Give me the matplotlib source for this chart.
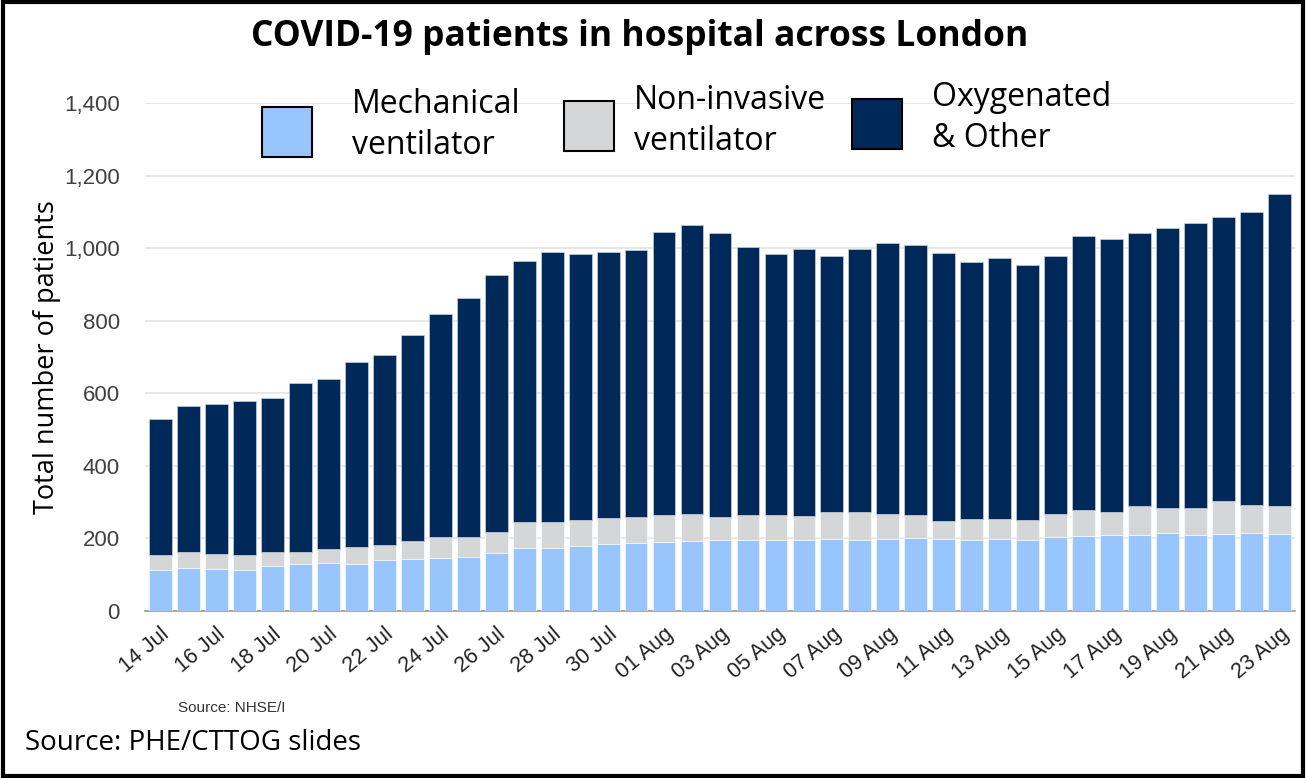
import numpy as np
import matplotlib
matplotlib.use("Agg")
import matplotlib.pyplot as plt
from matplotlib.patches import Rectangle

# dates, one bar per day 14 Jul - 23 Aug
days = [f"{d:02d} Jul" for d in range(14, 32)] + [f"{d:02d} Aug" for d in range(1, 24)]

# values
mech = [113, 119, 116, 113, 123, 129, 133, 129, 141, 142, 145, 148, 160, 175,
        175, 178, 184, 187, 190, 193, 196, 196, 196, 196, 199, 196, 199, 201,
        199, 196, 199, 196, 204, 207, 209, 209, 215, 209, 212, 215, 212]
niv_top = [155, 163, 158, 155, 163, 163, 172, 176, 181, 194, 203, 203, 218, 246,
           244, 250, 256, 260, 265, 268, 259, 265, 265, 263, 273, 273, 268, 265,
           248, 254, 254, 251, 267, 279, 273, 288, 285, 285, 303, 292, 289]
total = [529, 566, 570, 579, 588, 627, 639, 685, 706, 761, 819, 862, 925, 965,
         989, 983, 989, 995, 1044, 1065, 1041, 1004, 983, 998, 978, 998, 1013, 1010,
         986, 961, 973, 954, 978, 1033, 1024, 1043, 1055, 1070, 1085, 1100, 1150]

mech = np.array(mech)
niv = np.array(niv_top) - mech
other = np.array(total) - np.array(niv_top)

c_mech = "#99c5fd"
c_niv = "#d5d6d8"
c_oth = "#002859"

W, H = 1306, 778
fig = plt.figure(figsize=(W / 100, H / 100), dpi=100)
ax = fig.add_axes([145 / W, 1 - 611 / H, 1150 / W, 508 / H])

x = np.arange(len(days))
bw = 0.82
ax.bar(x, mech, bw, color=c_mech, edgecolor="white", linewidth=0.4, zorder=3)
ax.bar(x, niv, bw, bottom=mech, color=c_niv, edgecolor="white", linewidth=0.4, zorder=3)
ax.bar(x, other, bw, bottom=mech + niv, color=c_oth, edgecolor="#c8d0dc", linewidth=0.5, zorder=3)

ax.set_xlim(-0.54, len(days) - 0.46)
ax.set_ylim(0, 1400)
ax.set_yticks(np.arange(0, 1401, 200))
ax.set_yticklabels([f"{v:,}" for v in range(0, 1401, 200)], family="Liberation Sans",
                   fontsize=16, color="#404040")
ax.yaxis.grid(True, color="#e3e3e3", linewidth=1.2, zorder=0)
ax.tick_params(axis="y", length=0, pad=18)
ax.tick_params(axis="x", length=0, pad=9)

ax.set_xticks(x[::2])
ax.set_xticklabels(days[::2], rotation=40, ha="right", va="top", rotation_mode="anchor",
                   family="Liberation Sans", fontsize=15.5, color="#222222")

for s in ["top", "right", "left"]:
    ax.spines[s].set_visible(False)
ax.spines["bottom"].set_color("#9a9a9a")
ax.spines["bottom"].set_linewidth(1.2)

ax.set_ylabel("Total number of patients", fontsize=19.5, family="Open Sans", labelpad=2)

fig.text(640 / W, 1 - 37 / H, "COVID-19 patients in hospital across London",
         ha="center", va="center", fontsize=25.5, fontweight="bold", family="Open Sans")

# legend drawn by hand across the top
leg = [("Mechanical\nventilator", c_mech, 262, 107, 352, 125),
       ("Non-invasive\nventilator", c_niv, 564, 101, 634, 121),
       ("Oxygenated\n& Other", c_oth, 852, 99, 932, 118)]
for lab, col, px, py, tx, ty in leg:
    fig.add_artist(Rectangle((px / W, 1 - (py + 50) / H), 50 / W, 50 / H,
                             facecolor=col, edgecolor="black", linewidth=1.5,
                             transform=fig.transFigure))
    fig.text(tx / W, 1 - ty / H, lab, ha="left", va="center", fontsize=23,
             family="Open Sans", linespacing=1.3)

fig.text(178 / W, 1 - 708 / H, "Source: NHSE/I", fontsize=11, family="Liberation Sans",
         color="#333333", va="center")
fig.text(25 / W, 1 - 743 / H, "Source: PHE/CTTOG slides", fontsize=20,
         family="Open Sans", va="center")

fig.add_artist(Rectangle((0.002, 0.003), 0.996, 0.994, fill=False, edgecolor="black",
                         linewidth=3, transform=fig.transFigure))

fig.savefig("out.png", dpi=100)
